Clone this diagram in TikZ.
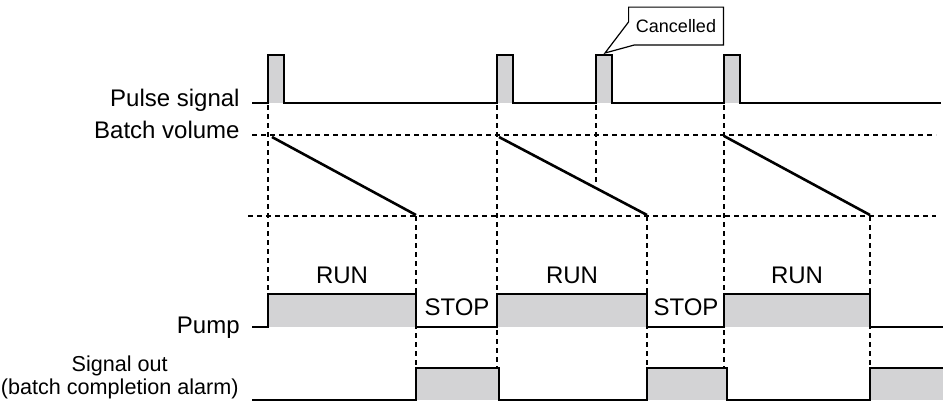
\documentclass[tikz,border=0pt]{standalone}
\usepackage{fontspec}
\setmainfont{Liberation Sans}
\usepackage{tikz}
\usetikzlibrary{
arrows.meta,
positioning,
calc
}
\definecolor{WaveGray}{RGB}{211,211,213}

\begin{document}
\begin{tikzpicture}[
    x=0.5pt,
    y=-0.5pt,
    font=\fontsize{12}{11.5}\selectfont,
    wave/.style={line width=1.3pt, line join=miter},
    guide/.style={line width=1.1pt, dash pattern=on 2.5pt off 2pt},
    sigfill/.style={fill=WaveGray},
    lbl/.style={anchor=base east, inner sep=0pt}
]

\useasboundingbox (0,0) rectangle (947,404);

% =========================
% SIGNAL LABELS
% =========================
\node[lbl] (lblpulse) at (240,106) {Pulse signal};
\node[lbl] (lblbatch) at (240,138) {Batch volume};
\node[lbl] (lblpump) at (240,333) {Pump};
\node[
    anchor=east,
    inner sep=0pt,
    align=center,
    font=\fontsize{10.8}{11.5}\selectfont
]
(lblout) at (239,377)
{Signal out\\(batch completion alarm)};

% =========================
% PULSE SIGNAL
% =========================
\foreach \x in {268,497,596,724}{
    \fill[sigfill] (\x,55) rectangle (\x+16,103);
}

\draw[wave]
(252,103) -- (268,103) |- (284,55) |- (497,103)
|- (513,55) |- (596,103)
|- (612,55) |- (724,103)
|- (740,55) |- (941,103);

% =========================
% BATCH VOLUME
% =========================
\draw[guide] (252,135) -- (936,135);
\draw[guide] (248,216) -- (936,216);

\draw[wave] (272,137) -- (416,215);
\draw[wave] (499,137) -- (647,215);
\draw[wave] (724,136) -- (870,215);

% =========================
% TIMING GUIDES
% =========================
\draw[guide] (268,105) -- (268,294);
\draw[guide] (497,105) -- (497,368);
\draw[guide] (596,105) -- (596,183);
\draw[guide] (724,105) -- (724,368);
\draw[guide] (416,216) -- (416,368);
\draw[guide] (647,216) -- (647,368);
\draw[guide] (870,216) -- (870,368);

% =========================
% PUMP
% =========================
\fill[sigfill] (268,294) rectangle (416,327);
\fill[sigfill] (497,294) rectangle (647,327);
\fill[sigfill] (724,294) rectangle (870,327);

\draw[wave]
(252,327) -| (268,294) -| (416,327) -| (497,294)
-| (647,327) -| (724,294) -| (870,327) -- (943,327);

\node[anchor=base, inner sep=0pt] (run1) at (342,283) {RUN};
\node[anchor=base, inner sep=0pt] (run2) at (572,283) {RUN};
\node[anchor=base, inner sep=0pt] (run3) at (797,283) {RUN};
\node[anchor=base, inner sep=0pt] (stop1) at (457,315) {STOP};
\node[anchor=base, inner sep=0pt] (stop2) at (686,315) {STOP};

% =========================
% SIGNAL OUT
% =========================
\fill[sigfill] (416,368) rectangle (499,400);
\fill[sigfill] (647,368) rectangle (727,400);
\fill[sigfill] (870,368) rectangle (943,400);

\draw[wave]
(252,400) -| (416,368) -| (499,400) -| (647,368)
-| (727,400) -| (870,368) -- (943,368);

% =========================
% CANCELLED CALLOUT
% =========================
\node[
    inner sep=0pt,
    minimum width=47pt,
    minimum height=18.5pt,
    font=\fontsize{9}{10}\selectfont
]
(cancel) at (676,26)
{Cancelled};

\coordinate (cancelTip) at (605,53);

\draw[line width=0.6pt]
([xshift=3pt]cancel.south west) -- (cancel.south east)
-- (cancel.north east) -- (cancel.north west)
-- ([yshift=11.5pt]cancel.south west) -- (cancelTip) -- cycle;

\end{tikzpicture}
\end{document}
